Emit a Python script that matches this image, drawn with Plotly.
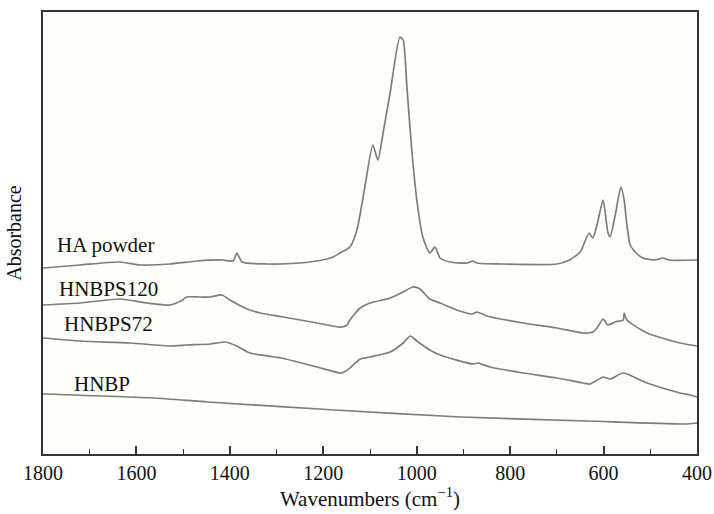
import plotly.graph_objects as go

# ---- data (wavenumber in cm^-1, absorbance in arbitrary units) ----
ha_wn = [1800, 1721, 1635, 1592, 1528, 1470, 1415, 1393, 1385, 1374, 1320, 1250, 1192, 1179,
         1164, 1143, 1128, 1111, 1094, 1083, 1072, 1057, 1036, 1029, 1021, 1010, 999, 987,
         972, 961, 950, 929, 892, 880, 871, 822, 700, 673, 650, 631, 623, 614, 601, 591, 586,
         575, 563, 556, 550, 543, 530, 516, 490, 473, 460, 400]
ha_abs = [1.86, 1.89, 1.92, 1.89, 1.90, 1.93, 1.94, 1.93, 2.01, 1.92, 1.90, 1.91, 1.95, 1.97,
          2.01, 2.07, 2.24, 2.67, 3.09, 2.94, 3.21, 3.61, 4.17, 4.14, 3.67, 3.01, 2.51, 2.17,
          2.01, 2.07, 1.96, 1.92, 1.91, 1.93, 1.91, 1.90, 1.90, 1.94, 2.02, 2.21, 2.16, 2.29,
          2.54, 2.22, 2.17, 2.39, 2.67, 2.54, 2.29, 2.09, 2.01, 1.96, 1.94, 1.96, 1.94, 1.94]

s120_wn = [1800, 1721, 1635, 1577, 1528, 1505, 1492, 1464, 1442, 1417, 1400, 1363, 1335, 1286,
           1213, 1168, 1160, 1149, 1143, 1121, 1100, 1057, 1029, 1008, 993, 972, 950, 914, 882,
           871, 850, 772, 700, 644, 623, 614, 601, 591, 575, 558, 556, 550, 507, 436, 400]
s120_abs = [1.49, 1.51, 1.55, 1.51, 1.49, 1.53, 1.57, 1.57, 1.57, 1.59, 1.54, 1.45, 1.41, 1.37,
            1.31, 1.27, 1.27, 1.29, 1.34, 1.46, 1.51, 1.56, 1.62, 1.67, 1.65, 1.55, 1.51, 1.44,
            1.40, 1.42, 1.38, 1.31, 1.26, 1.21, 1.22, 1.26, 1.35, 1.29, 1.32, 1.34, 1.41, 1.34,
            1.21, 1.11, 1.08]

s72_wn = [1800, 1721, 1614, 1528, 1492, 1442, 1410, 1385, 1357, 1290, 1213, 1160, 1143, 1121,
          1100, 1057, 1029, 1014, 997, 972, 950, 880, 869, 843, 772, 700, 644, 629, 601, 586,
          558, 507, 436, 415, 400]
s72_abs = [1.16, 1.13, 1.11, 1.08, 1.09, 1.10, 1.12, 1.08, 1.01, 0.96, 0.87, 0.81, 0.86, 0.95,
           0.97, 1.02, 1.11, 1.18, 1.12, 1.04, 0.99, 0.90, 0.91, 0.87, 0.81, 0.76, 0.71, 0.70,
           0.77, 0.75, 0.81, 0.71, 0.61, 0.59, 0.57]

hnbp_wn = [1800, 1563, 1447, 1176, 905, 635, 428, 400]
hnbp_abs = [0.60, 0.56, 0.52, 0.44, 0.37, 0.33, 0.30, 0.31]

series_names = ["HA powder", "HNBPS120", "HNBPS72", "HNBP"]
label_pos = [(1774, 2.09), (1771, 1.65), (1759, 1.30), (1739, 0.70)]
x_ticks = [1800, 1600, 1400, 1200, 1000, 800, 600, 400]

line_color = "#7d7d7d"
serif = "Liberation Serif, Times New Roman, serif"

fig = go.Figure()
for wn, ab, nm in [(ha_wn, ha_abs, series_names[0]), (s120_wn, s120_abs, series_names[1]),
                   (s72_wn, s72_abs, series_names[2]), (hnbp_wn, hnbp_abs, series_names[3])]:
    fig.add_trace(go.Scatter(x=wn, y=ab, mode="lines", name=nm,
                             line=dict(color=line_color, width=1.7, shape="spline", smoothing=0.6),
                             showlegend=False, hoverinfo="skip"))

for nm, (lx, ly) in zip(series_names, label_pos):
    fig.add_annotation(x=lx, y=ly, text=nm, showarrow=False, xanchor="left", yanchor="middle",
                       font=dict(family=serif, size=21, color="#111111"))

fig.update_layout(
    width=714, height=514,
    margin=dict(l=43, r=17, t=12, b=60),
    paper_bgcolor="white", plot_bgcolor="#fefefb",
    font=dict(family=serif, color="#111111"),
    xaxis=dict(range=[1800, 400], tickvals=x_ticks, ticks="inside", ticklen=8, tickwidth=1.6,
               tickcolor="#333", showline=True, linecolor="#333", linewidth=2, mirror=True,
               showgrid=False, zeroline=False, automargin=False,
               tickfont=dict(size=20, family=serif, color="#111111"),
               title=dict(text="Wavenumbers (cm<sup>−1</sup>)", font=dict(size=21, family=serif),
                          standoff=6),
               minor=dict(dtick=100, tick0=1800, ticks="inside", ticklen=5, tickwidth=1.3,
                          tickcolor="#333", showgrid=False)),
    yaxis=dict(range=[0, 4.42], showticklabels=False, ticks="", showline=True, linecolor="#333",
               linewidth=2, mirror=True, showgrid=False, zeroline=False, automargin=False,
               title=dict(text="Absorbance", font=dict(size=20, family=serif), standoff=14)),
)

fig.write_html("out.html", config={"displayModeBar": False},
               post_script="document.body.style.margin='0';document.body.style.padding='0';")
